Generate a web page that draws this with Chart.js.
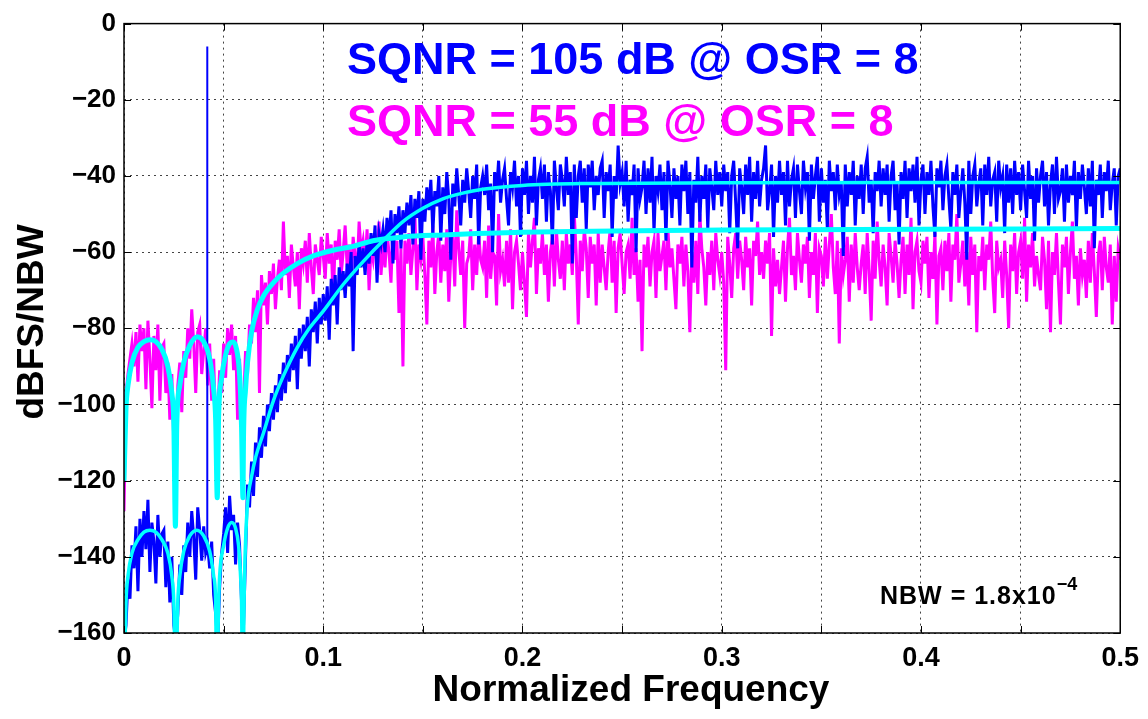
<!DOCTYPE html>
<html>
<head>
<meta charset="utf-8">
<script src="https://cdn.jsdelivr.net/npm/chart.js@4.4.1/dist/chart.umd.min.js"></script>
<style>
  html, body { margin: 0; padding: 0; background: #fff; }
  #wrap { width: 1148px; height: 719px; position: relative; }
</style>
</head>
<body>
<div id="wrap"><canvas id="psd"></canvas></div>
<script>
// FFT bins from 0 to 0.5, one value every 0.001
var binStep = 0.001;

// magenta spectrum, SQNR = 55 dB
var sqnr55Db = [
  -128, -97, -92, -88, -84, -90, -81, -94, -79, -86,
  -80, -96, -78, -88, -101, -82, -91, -79, -99, -85,
  -84, -97, -89, -104, -92, -110, -113, -95, -89, -102,
  -86, -93, -80, -88, -75, -84, -97, -81, -79, -92,
  -86, -80, -95, -84, -99, -88, -106, -103, -91, -97,
  -84, -93, -80, -87, -79, -91, -82, -104, -88, -103,
  -100, -86, -92, -79, -84, -72, -81, -70, -97, -66,
  -74, -68, -79, -65, -71, -63, -75, -67, -62, -70,
  -52, -66, -61, -72, -58, -64, -69, -60, -75, -59,
  -63, -57, -68, -55, -64, -71, -58, -62, -66, -56,
  -61, -67, -55, -63, -58, -73, -57, -62, -54, -66,
  -60, -53, -64, -58, -69, -56, -61, -65, -52, -60,
  -57, -63, -54, -70, -59, -62, -56, -61, -52, -66,
  -58, -64, -55, -60, -68, -53, -62, -57, -76, -59,
  -90, -57, -63, -55, -66, -59, -50, -70, -58, -62,
  -56, -66, -79, -57, -64, -53, -71, -60, -55, -68,
  -58, -65, -54, -73, -61, -56, -69, -49, -59, -66,
  -57, -80, -63, -61, -54, -70, -58, -66, -55, -62,
  -64, -57, -72, -53, -67, -60, -61, -74, -50, -65,
  -62, -69, -57, -68, -54, -75, -60, -57, -63, -70,
  -60, -68, -77, -55, -64, -57, -51, -71, -59, -63,
  -55, -66, -58, -73, -60, -56, -69, -54, -62, -67,
  -57, -70, -55, -63, -58, -66, -50, -61, -79, -57,
  -65, -54, -59, -72, -56, -63, -58, -74, -55, -68,
  -58, -64, -70, -60, -54, -68, -57, -76, -59, -55,
  -63, -71, -60, -58, -67, -51, -66, -59, -73, -62,
  -86, -58, -64, -56, -69, -60, -57, -72, -55, -65,
  -61, -57, -70, -54, -64, -59, -67, -75, -58, -63,
  -56, -69, -58, -65, -81, -60, -68, -57, -71, -50,
  -59, -64, -74, -60, -66, -57, -70, -55, -62, -66,
  -60, -68, -91, -56, -63, -72, -59, -55, -67, -57,
  -62, -70, -56, -64, -59, -74, -57, -61, -52, -66,
  -60, -67, -57, -63, -55, -82, -59, -69, -62, -71,
  -64, -57, -73, -59, -51, -66, -61, -70, -55, -62,
  -68, -58, -63, -56, -72, -60, -66, -55, -76, -59,
  -61, -69, -56, -67, -58, -50, -64, -71, -57, -84,
  -59, -66, -62, -56, -73, -58, -68, -55, -64, -70,
  -63, -58, -71, -55, -65, -78, -57, -67, -52, -62,
  -69, -58, -64, -74, -55, -61, -68, -57, -63, -72,
  -62, -56, -71, -58, -66, -51, -75, -60, -57, -65,
  -68, -57, -63, -56, -72, -60, -67, -55, -79, -61,
  -59, -70, -57, -65, -55, -73, -58, -62, -50, -68,
  -63, -57, -69, -60, -74, -56, -66, -58, -81, -61,
  -65, -56, -70, -58, -62, -52, -67, -76, -57, -64,
  -62, -72, -57, -66, -80, -58, -65, -55, -71, -60,
  -57, -67, -51, -73, -58, -64, -55, -69, -61, -66,
  -70, -56, -62, -75, -57, -81, -60, -66, -55, -68,
  -79, -58, -64, -56, -71, -60, -52, -67, -61, -74,
  -59, -66, -62, -72, -57, -68, -55, -65, -77, -61,
  -57, -70, -56, -64, -68, -58, -79, -61, -73, -59,
  -62
];

// blue spectrum, SQNR = 105 dB
var sqnr105Db = [
  -162, -158, -146, -151, -137, -143, -132, -149, -130, -140,
  -128, -138, -125, -144, -131, -136, -147, -129, -140, -134,
  -133, -148, -136, -152, -140, -158, -162, -155, -142, -150,
  -137, -144, -131, -140, -128, -135, -146, -127, -133, -141,
  -132, -139, -137, -143, -136, -150, -155, -163, -148, -139,
  -134, -127, -139, -124, -133, -129, -142, -131, -137, -152,
  -158, -140, -121, -127, -115, -124, -110, -119, -106, -114,
  -103, -111, -100, -107, -97, -104, -95, -102, -92, -99,
  -89, -97, -87, -94, -84, -91, -82, -96, -80, -88,
  -79, -86, -77, -90, -75, -81, -73, -84, -72, -79,
  -71, -78, -69, -83, -67, -74, -66, -79, -64, -70,
  -65, -72, -63, -69, -60, -86, -61, -66, -58, -64,
  -59, -66, -57, -63, -55, -61, -53, -68, -55, -58,
  -54, -60, -51, -57, -49, -63, -50, -55, -48, -59,
  -49, -55, -47, -53, -45, -58, -46, -51, -44, -62,
  -46, -52, -43, -49, -41, -55, -44, -48, -40, -57,
  -43, -50, -39, -46, -62, -42, -48, -38, -45, -53,
  -41, -47, -38, -44, -51, -40, -46, -37, -58, -43,
  -40, -45, -37, -49, -42, -60, -39, -44, -36, -47,
  -41, -38, -46, -53, -39, -43, -36, -48, -40, -56,
  -38, -45, -36, -50, -40, -47, -35, -53, -41, -38,
  -46, -37, -52, -39, -44, -58, -36, -43, -49, -37,
  -41, -48, -35, -45, -39, -63, -37, -51, -40, -36,
  -47, -38, -54, -37, -43, -36, -49, -40, -45, -38,
  -36, -51, -39, -44, -37, -56, -40, -46, -32, -42,
  -39, -48, -36, -52, -41, -45, -37, -60, -38, -46,
  -43, -36, -50, -38, -47, -35, -55, -40, -44, -37,
  -49, -39, -57, -36, -42, -51, -38, -46, -40, -53,
  -37, -44, -36, -50, -39, -64, -41, -47, -35, -52,
  -40, -46, -37, -54, -38, -43, -49, -36, -45, -39,
  -48, -37, -44, -39, -55, -40, -36, -47, -59, -38,
  -43, -50, -37, -45, -35, -52, -39, -46, -36, -48,
  -41, -38, -32, -49, -44, -37, -56, -40, -47, -36,
  -45, -39, -53, -36, -48, -41, -38, -51, -37, -44,
  -50, -36, -43, -39, -57, -37, -46, -40, -35, -52,
  -38, -47, -41, -54, -36, -44, -39, -49, -37, -45,
  -42, -61, -37, -48, -39, -45, -36, -53, -40, -46,
  -37, -50, -38, -35, -47, -41, -55, -39, -44, -36,
  -48, -38, -45, -37, -52, -40, -36, -49, -42, -58,
  -39, -46, -36, -51, -38, -44, -37, -47, -35, -53,
  -41, -37, -50, -39, -45, -36, -48, -56, -38, -43,
  -36, -49, -40, -37, -46, -54, -39, -45, -37, -51,
  -44, -38, -47, -62, -36, -50, -40, -37, -48, -42,
  -38, -53, -37, -45, -35, -48, -41, -39, -52, -36,
  -43, -40, -55, -37, -47, -38, -50, -36, -45, -39,
  -49, -37, -44, -51, -36, -46, -40, -57, -38, -47,
  -40, -36, -48, -39, -53, -42, -37, -50, -35, -46,
  -44, -38, -52, -37, -47, -40, -45, -36, -54, -39,
  -46, -37, -43, -50, -38, -48, -36, -59, -41, -45,
  -37, -51, -39, -44, -36, -49, -42, -38, -53, -40,
  -38
];

// input tone bin
var toneFreq = 0.0418;
var toneDb = -6;
var toneFloorDb = -137;

// theoretical NTF curves (cyan)
var ntf55Freq = [0, 0.001, 0.002, 0.004, 0.007, 0.010, 0.013, 0.016, 0.019, 0.022, 0.024, 0.025, 0.0258,
  0.0265, 0.028, 0.030, 0.033, 0.0368, 0.040, 0.043, 0.045, 0.046, 0.0468,
  0.0475, 0.049, 0.051, 0.053, 0.0545, 0.056, 0.0575, 0.0585, 0.059, 0.0597,
  0.060, 0.061, 0.062, 0.064, 0.067, 0.070, 0.075, 0.080, 0.087, 0.095, 0.105, 0.115, 0.125, 0.140, 0.160, 0.200, 0.300, 0.400, 0.500];
var ntf55Db = [-120, -101, -95, -89, -85, -83.5, -83, -83.5, -85.5, -90, -97, -105, -132,
  -105, -95, -89, -84.5, -82.2, -83.5, -88, -96, -104, -124.5,
  -103, -93, -87, -84, -83.6, -84.5, -89, -97, -106, -124.5,
  -108, -96, -89, -81, -75, -71.5, -68, -65.5, -63, -61, -59.5, -58.5, -57, -56, -55.5, -54.8, -54.2, -54, -53.8];

var ntf105Freq = [0, 0.001, 0.002, 0.004, 0.007, 0.010, 0.013, 0.016, 0.019, 0.022, 0.024, 0.025, 0.026,
  0.027, 0.028, 0.030, 0.033, 0.0365, 0.040, 0.043, 0.045, 0.046, 0.0465,
  0.0475, 0.048, 0.050, 0.052, 0.054, 0.056, 0.0575, 0.0585, 0.059, 0.0595,
  0.0605, 0.061, 0.062, 0.064, 0.066, 0.070, 0.075, 0.080, 0.087, 0.093, 0.100,
  0.110, 0.120, 0.130, 0.140, 0.150, 0.160, 0.170, 0.180, 0.200, 0.230, 0.300, 0.400, 0.500];
var ntf105Db = [-175, -152, -145, -139, -135.5, -133.5, -133, -133.5, -135.5, -139, -145, -152, -175,
  -152, -145, -138.5, -134.5, -133, -134.5, -138.5, -145, -152, -175,
  -152, -145, -137, -132.5, -131, -132.5, -137, -145, -152, -175,
  -145, -136, -126, -119, -114, -107.5, -99, -92.5, -85, -80, -75.5,
  -68.5, -62.5, -57, -52, -48.5, -46, -44.5, -43.5, -42.5, -42, -41.8, -41.7, -41.7];

var xMin = 0, xMax = 0.5, xGridStep = 0.05;
var yMin = -160, yMax = 0, yStep = 20;

var FONT = "'Liberation Sans', Arial, Helvetica, sans-serif";

function binPoints(vals) {
  return vals.map(function (v, i) { return { x: +(i * binStep).toFixed(4), y: v }; });
}
function curvePoints(fs, vals) {
  return fs.map(function (f, i) { return { x: f, y: vals[i] }; });
}

// frame, inward tick marks and the text labels
var decorations = {
  id: 'decorations',
  afterDraw: function (chart) {
    var ctx = chart.ctx, a = chart.chartArea;
    var xs = chart.scales.x, ys = chart.scales.y;
    ctx.save();
    ctx.strokeStyle = '#000';
    ctx.lineWidth = 1.5;
    ctx.strokeRect(a.left, a.top, a.right - a.left, a.bottom - a.top);
    ctx.lineWidth = 1;
    ctx.beginPath();
    xs.ticks.forEach(function (t) {
      var px = Math.round(xs.getPixelForValue(t.value)) + 0.5;
      ctx.moveTo(px, a.bottom); ctx.lineTo(px, a.bottom - 7);
      ctx.moveTo(px, a.top); ctx.lineTo(px, a.top + 7);
    });
    ys.ticks.forEach(function (t) {
      var py = Math.round(ys.getPixelForValue(t.value)) + 0.5;
      ctx.moveTo(a.left, py); ctx.lineTo(a.left + 7, py);
      ctx.moveTo(a.right, py); ctx.lineTo(a.right - 7, py);
    });
    ctx.stroke();

    ctx.textBaseline = 'alphabetic';
    ctx.textAlign = 'left';
    ctx.font = 'bold 45px ' + FONT;
    ctx.fillStyle = '#0000ff';
    ctx.fillText('SQNR = 105 dB @ OSR = 8', 347, 74);
    ctx.fillStyle = '#ff00ff';
    ctx.fillText('SQNR = 55 dB @ OSR = 8', 347, 136);

    ctx.fillStyle = '#000';
    ctx.font = 'bold 25px ' + FONT;
    ctx.letterSpacing = '1px';
    var nbw = 'NBW = 1.8x10';
    ctx.fillText(nbw, 880, 604);
    var w = ctx.measureText(nbw).width;
    ctx.font = 'bold 18px ' + FONT;
    ctx.letterSpacing = '0px';
    ctx.fillText('\u22124', 880 + w, 590);

    ctx.font = 'bold 37px ' + FONT;
    ctx.textAlign = 'center';
    ctx.fillText('Normalized Frequency', 631, 701);

    ctx.translate(33, 322);
    ctx.rotate(-Math.PI / 2);
    ctx.textBaseline = 'middle';
    ctx.fillText('dBFS/NBW', 0, 0);
    ctx.restore();
  }
};

var chart = new Chart(document.getElementById('psd'), {
  type: 'line',
  data: {
    datasets: [
      {
        label: 'SQNR 55 dB',
        data: binPoints(sqnr55Db),
        borderColor: '#ff00ff',
        borderWidth: 3,
        order: 5
      },
      {
        label: 'SQNR 105 dB',
        data: binPoints(sqnr105Db),
        borderColor: '#0000ff',
        borderWidth: 3,
        order: 4
      },
      {
        label: 'tone',
        data: [{ x: toneFreq, y: toneFloorDb }, { x: toneFreq, y: toneDb }],
        borderColor: '#0000ff',
        borderWidth: 2,
        order: 3
      },
      {
        label: 'NTF 55',
        data: curvePoints(ntf55Freq, ntf55Db),
        borderColor: '#00ffff',
        borderWidth: 5,
        cubicInterpolationMode: 'monotone',
        order: 2
      },
      {
        label: 'NTF 105',
        data: curvePoints(ntf105Freq, ntf105Db),
        borderColor: '#00ffff',
        borderWidth: 3.5,
        cubicInterpolationMode: 'monotone',
        order: 1
      }
    ]
  },
  options: {
    responsive: true,
    maintainAspectRatio: false,
    animation: false,
    parsing: false,
    layout: { padding: { left: 0, right: 27, top: 20, bottom: 0 } },
    elements: { point: { radius: 0 }, line: { fill: false } },
    plugins: { legend: { display: false }, tooltip: { enabled: false } },
    scales: {
      x: {
        type: 'linear',
        min: xMin,
        max: xMax,
        grid: { color: '#444', lineWidth: 1, drawTicks: false },
        border: { display: false, dash: [2, 4] },
        ticks: {
          stepSize: xGridStep,
          padding: 9,
          color: '#000',
          font: { family: FONT, size: 27, weight: 'bold' },
          maxRotation: 0,
          autoSkip: false,
          callback: function (v) {
            var t = Math.round(v * 10);
            return Math.abs(v * 10 - t) < 1e-6 ? String(t / 10) : '';
          }
        },
        afterFit: function (s) { s.height = 86; }
      },
      y: {
        min: yMin,
        max: yMax,
        grid: { color: '#444', lineWidth: 1, drawTicks: false },
        border: { display: false, dash: [2, 4] },
        ticks: {
          stepSize: yStep,
          padding: 8,
          color: '#000',
          font: { family: FONT, size: 26, weight: 'bold' },
          callback: function (v) { return v < 0 ? '\u2212' + Math.abs(v) : String(v); }
        },
        afterFit: function (s) { s.width = 124; }
      }
    }
  },
  plugins: [decorations]
});
</script>
</body>
</html>
